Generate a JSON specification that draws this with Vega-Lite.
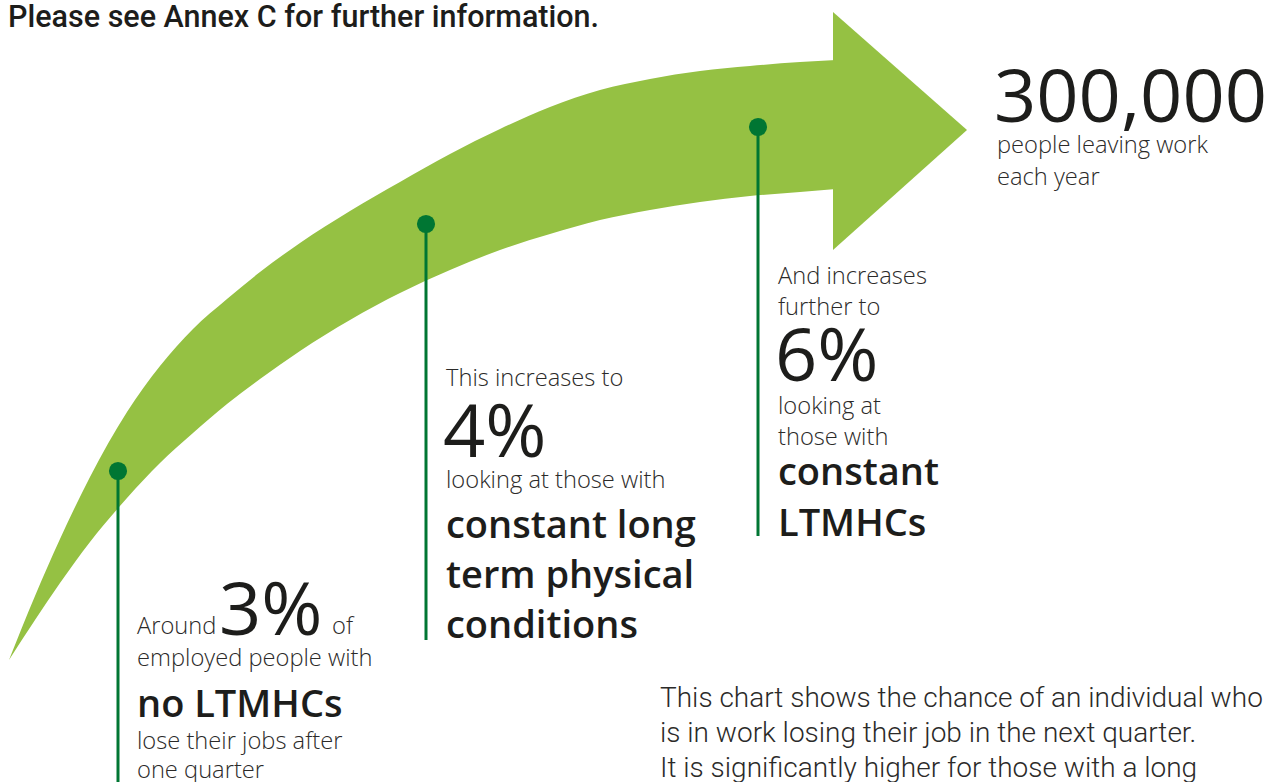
{
  "$schema": "https://vega.github.io/schema/vega-lite/v6.json",
  "width": 1280,
  "height": 782,
  "autosize": {"type": "none"},
  "padding": 0,
  "background": "white",
  "config": {"view": {"stroke": null}},
  "datasets": {
    "shaft": [
      {"x": 9, "y": 660, "y2": 660},
      {"x": 35, "y": 596, "y2": 620},
      {"x": 60, "y": 539, "y2": 583},
      {"x": 90, "y": 477, "y2": 542},
      {"x": 127, "y": 412, "y2": 498},
      {"x": 160, "y": 366, "y2": 463},
      {"x": 193, "y": 329, "y2": 433},
      {"x": 227, "y": 299, "y2": 404},
      {"x": 260, "y": 272, "y2": 379},
      {"x": 300, "y": 243, "y2": 351},
      {"x": 350, "y": 211, "y2": 320},
      {"x": 400, "y": 182, "y2": 293},
      {"x": 450, "y": 154, "y2": 270},
      {"x": 500, "y": 129, "y2": 250},
      {"x": 550, "y": 107, "y2": 234},
      {"x": 600, "y": 90, "y2": 220},
      {"x": 650, "y": 79, "y2": 210},
      {"x": 700, "y": 71, "y2": 202},
      {"x": 750, "y": 66, "y2": 196},
      {"x": 800, "y": 62, "y2": 192},
      {"x": 836, "y": 60, "y2": 189}
    ],
    "head": [
      {"x": 833, "y": 12, "y2": 250},
      {"x": 967, "y": 130, "y2": 130}
    ],
    "markers": [
      {"x": 118, "y": 471, "y2": 782},
      {"x": 426, "y": 224, "y2": 640},
      {"x": 758, "y": 127, "y2": 536}
    ],
    "header": [
      {"x": 8, "y": 27, "text": "Please see Annex C for further information."}
    ],
    "big": [
      {"x": 994, "y": 122, "text": "300,000"},
      {"x": 775, "y": 381, "text": "6%"},
      {"x": 443, "y": 457, "text": "4%"},
      {"x": 219, "y": 635, "text": "3%"}
    ],
    "light": [
      {"x": 997, "y": 153, "text": "people leaving work"},
      {"x": 997, "y": 185, "text": "each year"},
      {"x": 778, "y": 284, "text": "And increases"},
      {"x": 778, "y": 315, "text": "further to"},
      {"x": 778, "y": 414, "text": "looking at"},
      {"x": 778, "y": 445, "text": "those with"},
      {"x": 446, "y": 386, "text": "This increases to"},
      {"x": 446, "y": 488, "text": "looking at those with"},
      {"x": 137, "y": 634, "text": "Around"},
      {"x": 332, "y": 634, "text": "of"},
      {"x": 137, "y": 666, "text": "employed people with"},
      {"x": 137, "y": 749, "text": "lose their jobs after"},
      {"x": 137, "y": 778, "text": "one quarter"}
    ],
    "bold": [
      {"x": 137, "y": 717, "text": "no LTMHCs"},
      {"x": 446, "y": 538, "text": "constant long"},
      {"x": 446, "y": 588, "text": "term physical"},
      {"x": 446, "y": 638, "text": "conditions"},
      {"x": 778, "y": 485, "text": "constant"},
      {"x": 778, "y": 536, "text": "LTMHCs"}
    ],
    "para": [
      {"x": 660, "y": 707, "text": "This chart shows the chance of an individual who"},
      {"x": 660, "y": 742, "text": "is in work losing their job in the next quarter."},
      {"x": 660, "y": 777, "text": "It is significantly higher for those with a long"}
    ]
  },
  "encoding": {
    "x": {"field": "x", "type": "quantitative", "scale": {"domain": [0, 1280], "nice": false, "zero": false}, "axis": null},
    "y": {"field": "y", "type": "quantitative", "scale": {"domain": [0, 782], "nice": false, "zero": false, "reverse": true}, "axis": null}
  },
  "layer": [
    {"data": {"name": "shaft"}, "mark": {"type": "area", "color": "#95c143", "interpolate": "monotone"}, "encoding": {"y2": {"field": "y2"}}},
    {"data": {"name": "head"}, "mark": {"type": "area", "color": "#95c143"}, "encoding": {"y2": {"field": "y2"}}},
    {"data": {"name": "markers"}, "mark": {"type": "rule", "color": "#007633", "strokeWidth": 3}, "encoding": {"y2": {"field": "y2"}}},
    {"data": {"name": "markers"}, "mark": {"type": "point", "filled": true, "color": "#007633", "size": 330, "opacity": 1}, "encoding": {}},
    {"data": {"name": "header"}, "mark": {"type": "text", "align": "left", "baseline": "alphabetic", "font": "Roboto", "fontWeight": 500, "fontSize": 30.5, "color": "#1d1d1b"}, "encoding": {"text": {"field": "text"}}},
    {"data": {"name": "big"}, "mark": {"type": "text", "align": "left", "baseline": "alphabetic", "font": "Open Sans", "fontWeight": 400, "fontSize": 74, "color": "#1d1d1b"}, "encoding": {"text": {"field": "text"}}},
    {"data": {"name": "light"}, "mark": {"type": "text", "align": "left", "baseline": "alphabetic", "font": "Open Sans", "fontWeight": 300, "fontSize": 23.7, "color": "#2b2a29"}, "encoding": {"text": {"field": "text"}}},
    {"data": {"name": "bold"}, "mark": {"type": "text", "align": "left", "baseline": "alphabetic", "font": "Open Sans", "fontWeight": 600, "fontSize": 38, "color": "#1d1d1b"}, "encoding": {"text": {"field": "text"}}},
    {"data": {"name": "para"}, "mark": {"type": "text", "align": "left", "baseline": "alphabetic", "font": "Roboto", "fontWeight": 300, "fontSize": 28, "color": "#2b2a29"}, "encoding": {"text": {"field": "text"}}}
  ]
}
